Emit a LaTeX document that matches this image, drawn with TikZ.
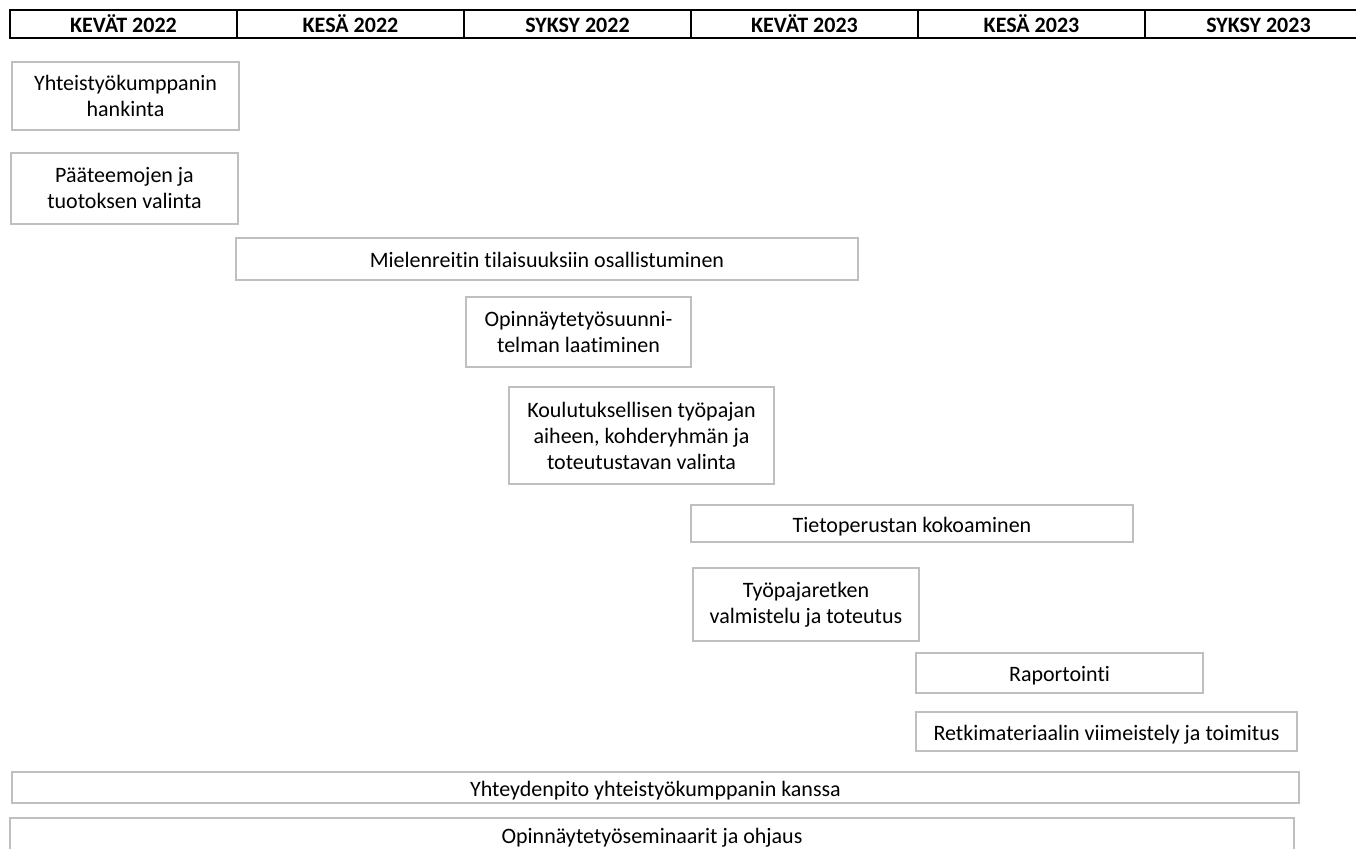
\documentclass[tikz,border=0pt]{standalone}
\usepackage{fontspec}
\setmainfont{Carlito}[Ligatures=NoCommon]
\newcommand\lowtext[1]{\raisebox{-4.5pt}[0pt][0pt]{#1}}

\begin{document}
\begin{tikzpicture}[
	x=0.5pt, y=-0.5pt,
	font=\fontsize{11}{13}\selectfont,
	season/.style={draw=black, line width=0.6pt, font=\fontsize{11}{13}\selectfont\bfseries,
		minimum width=113.5pt, minimum height=14pt, inner sep=0,
		text height=10pt, text depth=1pt},
	task/.style={draw=black!25, line width=0.7pt, align=center, inner sep=0},
	size/.style 2 args={minimum width=#1*0.5pt, minimum height=#2*0.5pt}
]
	\clip (0,0) rectangle (1356,849);

	% seasons
	\foreach \season [count=\i] in {KEVÄT 2022, KESÄ 2022, SYKSY 2022,
		KEVÄT 2023, KESÄ 2023, SYKSY 2023}
		\node[season] (s\i) at ({10+227*(\i-0.5)}, 24) {\season};

	% tasks
	\node[task, size={227}{68}] (hankinta) at (125.5,96)
		{Yhteistyökumppanin\\hankinta};
	\node[task, size={227}{71}] (teemat) at (124.5,188.5)
		{Pääteemojen ja\\tuotoksen valinta};
	\node[task, size={622}{42}] (tilaisuudet) at (547,259)
		{\lowtext{Mielenreitin tilaisuuksiin osallistuminen}};
	\node[task, size={225}{70}] (suunnitelma) at (578.5,332)
		{Opinnäytetyösuunni-\\telman laatiminen};
	\node[task, size={265}{97}] (tyopaja) at (641.5,435.5)
		{Koulutuksellisen työpajan\\aiheen, kohderyhmän ja\\toteutustavan valinta};
	\node[task, size={442}{37}] (tietoperusta) at (912,523.5)
		{\lowtext{Tietoperustan kokoaminen}};
	\node[task, size={226}{73}] (retki) at (806,604.5)
		{Työpajaretken\\valmistelu ja toteutus};
	\node[task, size={287}{40}] (raportointi) at (1059.5,673)
		{\lowtext{Raportointi}};
	\node[task, size={381}{39}] (materiaali) at (1106.5,731.5)
		{\lowtext{Retkimateriaalin viimeistely ja toimitus}};
	\node[task, size={1287}{31}] (yhteydenpito) at (655.5,787.5)
		{\lowtext{Yhteydenpito yhteistyökumppanin kanssa}};
	\node[task, size={1284}{34}] (seminaarit) at (652,835)
		{\lowtext{Opinnäytetyöseminaarit ja ohjaus}};
\end{tikzpicture}
\end{document}
